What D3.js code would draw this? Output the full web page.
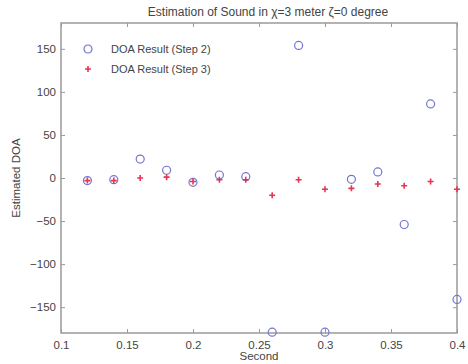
<!DOCTYPE html>
<html>
<head>
<meta charset="utf-8">
<script src="https://cdn.jsdelivr.net/npm/d3@7"></script>
<style>
  html, body { margin: 0; padding: 0; background: #fff; }
  svg { display: block; }
</style>
</head>
<body>
<div id="chart"></div>
<script>
// ── Data ─────────────────────────────────────
const seconds = [0.12, 0.14, 0.16, 0.18, 0.20, 0.22, 0.24, 0.26, 0.28, 0.30, 0.32, 0.34, 0.36, 0.38, 0.40];
const step2   = [-3, -2, 22, 9, -5, 3.5, 1.5, -179, 154, -179, -1.5, 7, -54, 86, -141];
const step3   = [-3, -3, 0, 1, -4, -2, -2, -20, -2, -13, -12, -7, -9, -4, -13];
const xTicks  = [0.1, 0.15, 0.2, 0.25, 0.3, 0.35, 0.4];
const yTicks  = [-150, -100, -50, 0, 50, 100, 150];
const seriesNames = ["DOA Result (Step 2)", "DOA Result (Step 3)"];

const W = 468, H = 364;
const margin = { top: 23, right: 11, bottom: 31, left: 61 };
const width  = W - margin.left - margin.right;
const height = H - margin.top - margin.bottom;
const FONT = "'Liberation Sans', Arial, sans-serif";
const AXIS_COL = "#9a9a9a", TEXT_COL = "#444";
const BLUE = "#7474d4", RED = "#e8344e";

const svg = d3.select("#chart").append("svg").attr("width", W).attr("height", H);
const g = svg.append("g").attr("transform", `translate(${margin.left},${margin.top})`);

const x = d3.scaleLinear().domain([0.1, 0.4]).range([0, width]);
const y = d3.scaleLinear().domain([-180, 180]).range([height, 0]);

// Frame
g.append("rect").attr("width", width).attr("height", height)
  .attr("fill", "none").attr("stroke", AXIS_COL).attr("stroke-width", 1.5);

// Axes (inward ticks, mirrored on top/right)
function styleAxis(sel, labels) {
  sel.select(".domain").remove();
  sel.selectAll(".tick line").attr("stroke", AXIS_COL).attr("stroke-width", 1);
  sel.selectAll("text").attr("font-family", FONT).attr("font-size", "11.5px").attr("fill", TEXT_COL);
  if (!labels) sel.selectAll("text").remove();
}
g.append("g").attr("transform", `translate(0,${height})`)
  .call(d3.axisBottom(x).tickValues(xTicks).tickSize(-4).tickPadding(8).tickFormat(d3.format("")))
  .call(s => styleAxis(s, true));
g.append("g")
  .call(d3.axisTop(x).tickValues(xTicks).tickSize(-4))
  .call(s => styleAxis(s, false));
g.append("g")
  .call(d3.axisLeft(y).tickValues(yTicks).tickSize(-4).tickPadding(5).tickFormat(d => d < 0 ? "\u2212" + Math.abs(d) : d))
  .call(s => styleAxis(s, true));
g.append("g").attr("transform", `translate(${width},0)`)
  .call(d3.axisRight(y).tickValues(yTicks).tickSize(-4))
  .call(s => styleAxis(s, false));

// Points
const pts = seconds.map((s, i) => ({ s, a: step2[i], b: step3[i] }));
g.selectAll(".s2").data(pts).join("circle")
  .attr("class", "s2")
  .attr("cx", d => x(d.s)).attr("cy", d => y(d.a)).attr("r", 4)
  .attr("fill", "none").attr("stroke", BLUE).attr("stroke-width", 1.2);
g.selectAll(".s3").data(pts).join("path")
  .attr("class", "s3")
  .attr("transform", d => `translate(${x(d.s)},${y(d.b)})`)
  .attr("d", "M-3,0H3M0,-3V3")
  .attr("stroke", RED).attr("stroke-width", 1.6);

// Legend
const lg = g.append("g").attr("transform", "translate(27,26)");
lg.append("circle").attr("cx", 0).attr("cy", 0).attr("r", 4)
  .attr("fill", "none").attr("stroke", BLUE).attr("stroke-width", 1.2);
lg.append("path").attr("transform", "translate(0,20)").attr("d", "M-3,0H3M0,-3V3")
  .attr("stroke", RED).attr("stroke-width", 1.6);
lg.selectAll("text").data(seriesNames).join("text")
  .attr("x", 23).attr("y", (d, i) => i * 20 + 4)
  .attr("font-family", FONT).attr("font-size", "11px").attr("fill", TEXT_COL)
  .text(d => d);

// Titles
svg.append("text").attr("x", margin.left + width / 2 + 9).attr("y", 16)
  .attr("text-anchor", "middle").attr("font-family", FONT).attr("font-size", "12px").attr("fill", TEXT_COL)
  .text("Estimation of Sound in \u03C7=3 meter \u03B6=0 degree");
svg.append("text").attr("x", margin.left + width / 2).attr("y", 360)
  .attr("text-anchor", "middle").attr("font-family", FONT).attr("font-size", "11.5px").attr("fill", TEXT_COL)
  .text("Second");
svg.append("text").attr("transform", `translate(20,${margin.top + height / 2}) rotate(-90)`)
  .attr("text-anchor", "middle").attr("font-family", FONT).attr("font-size", "11.5px").attr("fill", TEXT_COL)
  .text("Estimated DOA");
</script>
</body>
</html>
